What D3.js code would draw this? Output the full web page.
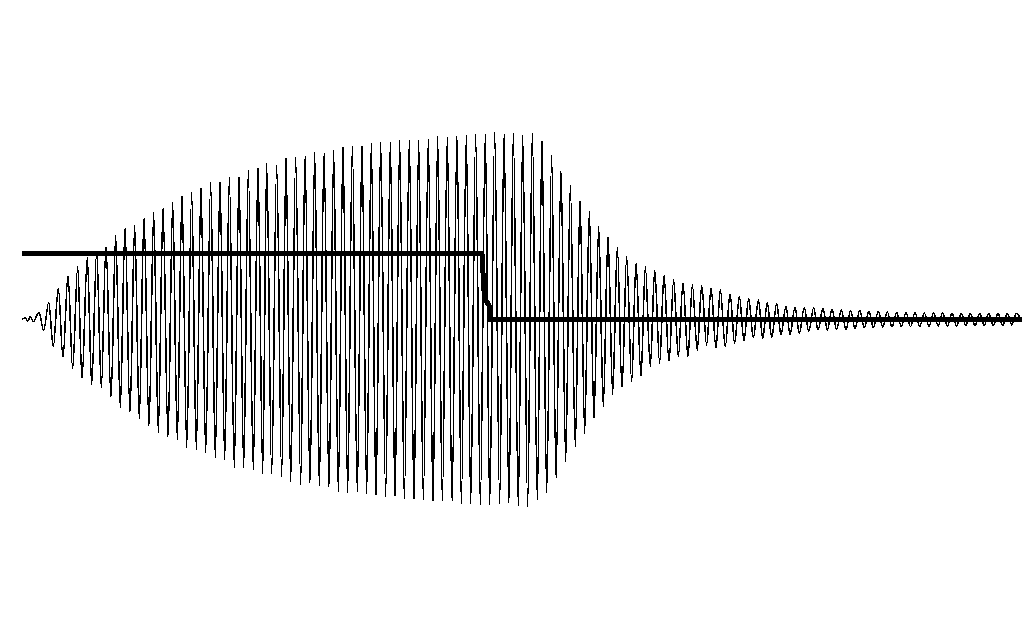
<!DOCTYPE html>
<html>
<head>
<meta charset="utf-8">
<script src="https://cdn.jsdelivr.net/npm/d3@7"></script>
<style>
  html, body { margin: 0; padding: 0; background: #fff; }
  svg { display: block; }
</style>
</head>
<body>
<svg id="chart" width="1024" height="638"></svg>
<script>
// ---- Data (time in ms, amplitude in mV) ----
// Oscillating response: successive extrema (crest / trough) of the trace
const oscTime = [
  0, 0.3, 0.6, 0.8, 1.13,
  1.70, 2.17, 2.67, 3.13, 3.63, 4.10, 4.60, 5.07, 5.57, 6.00,
  6.53, 6.97, 7.47, 7.93, 8.40, 8.90, 9.37, 9.83, 10.30, 10.80,
  11.27, 11.73, 12.20, 12.70, 13.17, 13.63, 14.10, 14.60, 15.07, 15.53,
  16.00, 16.47, 16.97, 17.43, 17.90, 18.37, 18.87, 19.33, 19.80, 20.27,
  20.73, 21.23, 21.70, 22.17, 22.63, 23.13, 23.60, 24.07, 24.47, 24.97,
  25.47, 25.97, 26.40, 26.87, 27.37, 27.87, 28.30, 28.80, 29.27, 29.73,
  30.20, 30.70, 31.17, 31.63, 32.10, 32.57, 33.03, 33.53, 34.00, 34.47,
  34.93, 35.40, 35.87, 36.37, 36.83, 37.30, 37.77, 38.23, 38.73, 39.20,
  39.67, 40.13, 40.63, 41.10, 41.57, 42.03, 42.53, 43.00, 43.50, 43.93,
  44.43, 44.87, 45.37, 45.83, 46.33, 46.77, 47.27, 47.77, 48.20, 48.70,
  49.13, 49.63, 50.07, 50.57, 51.03, 51.53, 52.00, 52.47, 52.97, 53.40,
  53.90, 54.37, 54.83, 55.33, 55.80, 56.27, 56.73, 57.20, 57.67, 58.13,
  58.60, 59.07, 59.53, 60.00, 60.47, 60.97, 61.40, 61.90, 62.33, 62.83,
  63.27, 63.77, 64.20, 64.70, 65.17, 65.63, 66.10, 66.60, 67.03, 67.53,
  67.97, 68.47, 68.90, 69.40, 69.83, 70.33, 70.80, 71.27, 71.73, 72.20,
  72.67, 73.13, 73.65, 74.07, 74.53, 74.97, 75.47, 75.90, 76.40, 76.80,
  77.30, 77.73, 78.23, 78.67, 79.17, 79.60, 80.10, 80.53, 81.00, 81.47,
  81.93, 82.40, 82.87, 83.30, 83.77, 84.23, 84.70, 85.13, 85.63, 86.07,
  86.53, 87.00, 87.47, 87.93, 88.40, 88.85, 89.30, 89.77, 90.23, 90.70,
  91.17, 91.62, 92.07, 92.53, 93.00, 93.47, 93.93, 94.38, 94.83, 95.30,
  95.77, 96.22, 96.67, 97.13, 97.60, 98.07, 98.53, 98.98, 99.43, 99.90
];
const oscValue = [
  0, 1.5, -1.5, 3, -2,
  7, -11, 17, -27, 31, -38, 44, -49.5, 53, -59,
  62, -65, 68, -68, 73.5, -78, 84, -88, 92, -93,
  94, -99.5, 102, -107, 107, -113, 112, -118, 117.5, -120,
  124, -128, 127, -130.5, 132, -133, 137, -138, 138.5, -140.5,
  142, -148, 143, -148, 149, -150, 152, -154, 156, -154.5,
  154.5, -157, 162, -162, 162, -165, 164.5, -164, 167, -167,
  167, -168, 169, -173, 173, -173, 173.5, -173, 174.5, -174,
  177, -176.5, 177, -177, 178, -177, 179, -180, 179.5, -180.5,
  179.5, -180.5, 181, -182, 183, -182, 183, -182, 184, -184,
  184.5, -184, 185.5, -185.5, 186, -185.5, 187, -184, 186, -183.8,
  187, -187.2, 184.5, -187.2, 187, -180.5, 179.5, -173.2, 164.5, -158.8,
  149.5, -142.2, 134.5, -127.2, 119.5, -113.8, 108, -98.8, 93.5, -87.2,
  83, -74.5, 72.5, -68.8, 63, -62.2, 57, -57.2, 53, -47.2,
  49.5, -43.8, 44.5, -42.2, 39.5, -37.2, 36.5, -37.2, 34.5, -30.5,
  34, -25.5, 31.5, -28.8, 29.5, -27.2, 25.5, -23.8, 23, -21,
  21, -18, 19.5, -19, 17, -18, 16, -15.5, 13.5, -15,
  12, -14, 12, -12, 12, -10.5, 11, -10.5, 10, -10,
  9.5, -10, 9, -9, 9, -8, 8.5, -8, 8, -7.5,
  7.5, -7.5, 7, -7, 7, -7, 7, -7, 6.5, -7,
  6.5, -6.5, 6.5, -6.5, 6, -6.5, 6, -6, 6, -6,
  6, -6, 6, -6, 6, -6, 6, -5.5, 6, 0
];

// Step (drive) signal: high level, then falls to zero
const stepTime  = [0, 46.0, 46.2, 46.4, 46.7, 46.85, 100];
const stepValue = [65.7, 65.7, 29, 19, 14, 0, 0];

// ---- Drawing ----
const svg = d3.select("#chart");
const x = d3.scaleLinear().domain([0, 100]).range([22, 1022]);
const y = d3.scaleLinear().domain([-200, 200]).range([519.5, 119.5]);

const oscData = oscTime.map((t, i) => ({ t, v: oscValue[i] }));
const stepData = stepTime.map((t, i) => ({ t, v: stepValue[i] }));

const oscLine = d3.line()
  .x(d => x(d.t))
  .y(d => y(d.v))
  .curve(d3.curveMonotoneX);

const stepLine = d3.line()
  .x(d => x(d.t))
  .y(d => y(d.v))
  .curve(d3.curveLinear);

svg.append("path")
  .datum(oscData)
  .attr("d", oscLine)
  .attr("fill", "none")
  .attr("stroke", "#000")
  .attr("stroke-width", 1.6)
  .attr("shape-rendering", "crispEdges");

svg.append("path")
  .datum(stepData)
  .attr("d", stepLine)
  .attr("fill", "none")
  .attr("stroke", "#000")
  .attr("stroke-width", 5)
  .attr("stroke-linejoin", "miter")
  .attr("shape-rendering", "crispEdges");
</script>
</body>
</html>
